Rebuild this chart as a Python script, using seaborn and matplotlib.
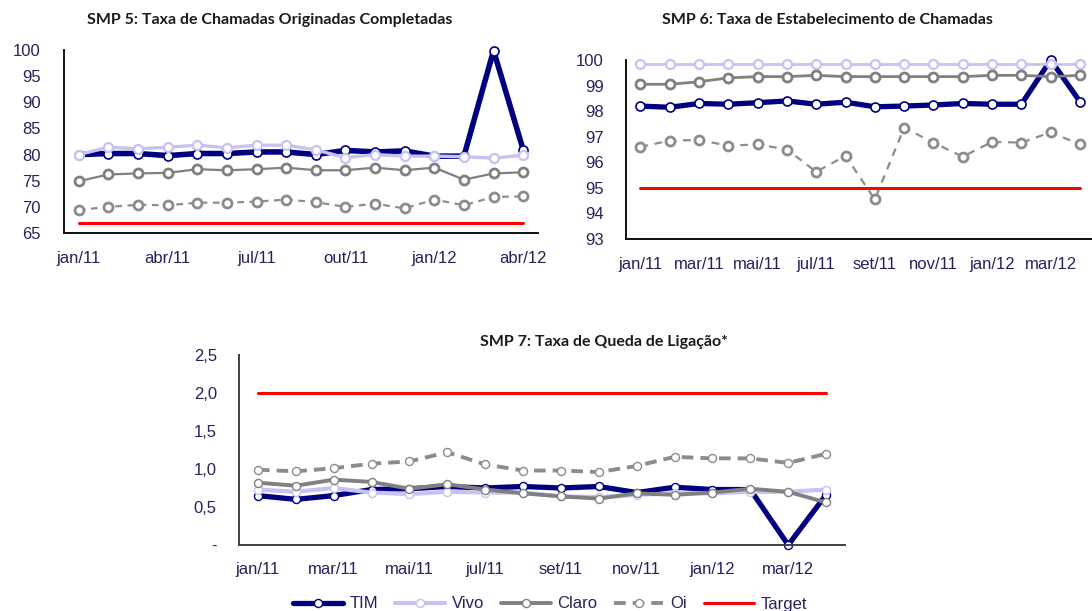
import matplotlib.pyplot as plt
import seaborn as sns

# months shown on the x axis (jan/11 .. abr/12)
months = ["jan/11", "fev/11", "mar/11", "abr/11", "mai/11", "jun/11", "jul/11", "ago/11",
          "set/11", "out/11", "nov/11", "dez/11", "jan/12", "fev/12", "mar/12", "abr/12"]
operators = ["TIM", "Vivo", "Claro", "Oi", "Target"]

# SMP 5: Taxa de Chamadas Originadas Completadas
smp5_tim = [80.0, 80.2, 80.2, 79.8, 80.2, 80.2, 80.5, 80.5, 80.0, 80.8, 80.5, 80.7, 79.7, 79.7, 99.9, 80.9]
smp5_vivo = [80.0, 81.4, 81.1, 81.4, 81.8, 81.3, 81.8, 81.8, 80.9, 79.4, 80.0, 79.7, 79.7, 79.6, 79.3, 79.9]
smp5_claro = [74.9, 76.2, 76.4, 76.5, 77.2, 77.0, 77.2, 77.5, 77.0, 77.0, 77.5, 77.0, 77.5, 75.2, 76.4, 76.6]
smp5_oi = [69.4, 70.0, 70.4, 70.3, 70.8, 70.8, 71.0, 71.4, 70.9, 70.0, 70.6, 69.7, 71.4, 70.3, 71.9, 72.0]
smp5_target = 67.0

# SMP 6: Taxa de Estabelecimento de Chamadas
smp6_tim = [98.2, 98.15, 98.3, 98.27, 98.33, 98.4, 98.27, 98.35, 98.17, 98.2, 98.24, 98.3, 98.27, 98.27, 100.0, 98.37]
smp6_vivo = [99.85] * 16
smp6_claro = [99.05, 99.05, 99.15, 99.3, 99.35, 99.35, 99.4, 99.35, 99.35, 99.35, 99.35, 99.35, 99.4, 99.4, 99.35, 99.4]
smp6_oi = [96.6, 96.85, 96.87, 96.65, 96.7, 96.5, 95.63, 96.25, 94.55, 97.35, 96.77, 96.22, 96.8, 96.77, 97.17, 96.7]
smp6_target = 95.0

# SMP 7: Taxa de Queda de Ligação
smp7_tim = [0.65, 0.60, 0.65, 0.73, 0.74, 0.77, 0.75, 0.77, 0.75, 0.77, 0.69, 0.76, 0.73, 0.73, 0.0, 0.66]
smp7_vivo = [0.73, 0.70, 0.75, 0.69, 0.67, 0.70, 0.69, 0.69, 0.64, 0.63, 0.66, 0.68, 0.68, 0.70, 0.70, 0.73]
smp7_claro = [0.82, 0.78, 0.86, 0.83, 0.74, 0.80, 0.73, 0.68, 0.64, 0.61, 0.68, 0.66, 0.69, 0.74, 0.70, 0.56]
smp7_oi = [0.99, 0.97, 1.01, 1.07, 1.10, 1.22, 1.06, 0.98, 0.98, 0.96, 1.04, 1.16, 1.14, 1.14, 1.08, 1.20]
smp7_target = 2.0
smp7_yticks = [0, 0.5, 1.0, 1.5, 2.0, 2.5]
smp7_ylabels = ["-", "0,5", "1,0", "1,5", "2,0", "2,5"]

sns.set_theme(style="white")
plt.rcParams["font.family"] = ["Liberation Sans", "DejaVu Sans"]

TICK_COLOR = "#2a1f5c"
colors = {"TIM": "#000080", "Vivo": "#c8c2f2", "Claro": "#808080", "Oi": "#8c8c8c", "Target": "#ff0000"}


def draw_series(ax, series, widths, msize, mew, dash):
    x = list(range(len(months)))
    for name, vals in zip(operators, series):
        c = colors[name]
        if name == "Target":
            sns.lineplot(x=x, y=[vals] * len(x), ax=ax, color=c, lw=widths[name],
                         label=name, legend=False, zorder=3)
            continue
        sns.lineplot(x=x, y=vals, ax=ax, color=c, lw=widths[name], marker="o",
                     markersize=msize, markerfacecolor="white", markeredgecolor=c,
                     markeredgewidth=mew[name], label=name, legend=False, zorder=2,
                     clip_on=False)
        if name == "Oi":
            ax.lines[-1].set_dashes(dash)


def style_axis(ax, spine_color, pad_y, pad_x):
    sns.despine(ax=ax)
    for s in ["left", "bottom"]:
        ax.spines[s].set_color(spine_color)
        ax.spines[s].set_linewidth(1.4)
    ax.tick_params(axis="both", length=0, labelsize=12, labelcolor=TICK_COLOR)
    ax.tick_params(axis="y", pad=pad_y)
    ax.tick_params(axis="x", pad=pad_x)
    ax.set_xlabel("")
    ax.set_ylabel("")
    ax.grid(False)


fig = plt.figure(figsize=(10.92, 6.11), dpi=100)
W, H = 1092, 611


def add_axes(left, top, right, bottom):
    return fig.add_axes([left / W, 1 - bottom / H, (right - left) / W, (bottom - top) / H])


title_kw = dict(ha="center", va="center", fontsize=11.5, fontweight="bold",
                family="Lato", color="#1a1a1a")

# ---- SMP 5 ----
ax1 = add_axes(64, 50, 538, 233)
draw_series(ax1, [smp5_tim, smp5_vivo, smp5_claro, smp5_oi, smp5_target],
            {"TIM": 4.0, "Vivo": 2.4, "Claro": 1.6, "Oi": 1.6, "Target": 2.2}, 6.5,
            {"TIM": 1.2, "Vivo": 1.6, "Claro": 2.0, "Oi": 2.0}, (3, 2.5))
ax1.set_xlim(-0.5, 15.5)
ax1.set_ylim(65, 100)
ax1.set_yticks(range(65, 101, 5))
ax1.set_xticks(range(0, 16, 3))
ax1.set_xticklabels(months[0::3])
style_axis(ax1, "#111111", 17, 13)
fig.text(270 / W, 1 - 20 / H, "SMP 5: Taxa de Chamadas Originadas Completadas", **title_kw)

# ---- SMP 6 ----
ax2 = add_axes(626, 60, 1092, 239)
draw_series(ax2, [smp6_tim, smp6_vivo, smp6_claro, smp6_oi, smp6_target],
            {"TIM": 3.8, "Vivo": 2.0, "Claro": 2.0, "Oi": 1.6, "Target": 2.2}, 6.5,
            {"TIM": 1.2, "Vivo": 1.6, "Claro": 2.0, "Oi": 2.0}, (3.5, 3))
ax2.set_xlim(-0.49, 15.41)
ax2.set_ylim(93, 100)
ax2.set_yticks(range(93, 101))
ax2.set_xticks(range(0, 16, 2))
ax2.set_xticklabels(months[0:15:2])
style_axis(ax2, "#111111", 16, 13)
fig.text(827 / W, 1 - 20 / H, "SMP 6: Taxa de Estabelecimento de Chamadas", **title_kw)

# ---- SMP 7 ----
ax3 = add_axes(239, 355, 845, 545)
draw_series(ax3, [smp7_tim, smp7_vivo, smp7_claro, smp7_oi, smp7_target],
            {"TIM": 3.8, "Vivo": 3.0, "Claro": 2.8, "Oi": 2.8, "Target": 2.2}, 5.8,
            {"TIM": 1.0, "Vivo": 1.0, "Claro": 1.0, "Oi": 1.0}, (3, 1.8))
ax3.set_xlim(-0.5, 15.5)
ax3.set_ylim(0, 2.5)
ax3.set_yticks(smp7_yticks)
ax3.set_yticklabels(smp7_ylabels)
ax3.set_xticks(range(0, 16, 2))
ax3.set_xticklabels(months[0:15:2])
style_axis(ax3, "#404040", 16, 12)
fig.text(604 / W, 1 - 342 / H, "SMP 7: Taxa de Queda de Ligação*", **title_kw)

handles, labels = ax3.get_legend_handles_labels()
fig.legend(handles, labels, loc="center", bbox_to_anchor=(550 / W, 1 - 604 / H), ncol=5,
           frameon=False, fontsize=12, handlelength=3.0, handletextpad=0.4,
           columnspacing=1.0, labelcolor=TICK_COLOR)

fig.savefig("out.png", dpi=100)
